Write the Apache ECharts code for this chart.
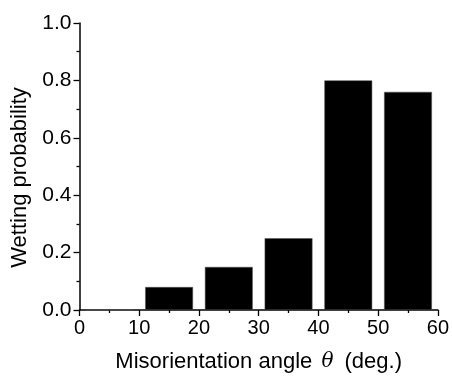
<!DOCTYPE html>
<html>
<head>
<meta charset="utf-8">
<script src="https://cdn.jsdelivr.net/npm/echarts@6/dist/echarts.min.js"></script>
<style>
  html, body { margin: 0; padding: 0; background: #fff; }
  #chart { width: 452px; height: 378px; }
</style>
</head>
<body>
<div id="chart"></div>
<script>
// Bin centres of the misorientation-angle histogram (degrees)
const binCenters = [5, 15, 25, 35, 45, 55];
// Wetting probability in each 10-degree bin
const wettingProb = [0, 0.08, 0.15, 0.25, 0.80, 0.76];
// Axis ranges and tick steps
const xRange = [0, 60];
const xStep = 10;
const yRange = [0, 1.0];
const yStep = 0.2;

const font = 'Liberation Sans, Arial, sans-serif';
const chart = echarts.init(document.getElementById('chart'), null, { renderer: 'canvas' });

const axisCommon = {
  axisLine: { show: true, onZero: false, lineStyle: { color: '#000', width: 1.5 } },
  axisTick: { show: true, inside: false, length: 6, lineStyle: { color: '#000', width: 1.3 } },
  minorTick: { show: true, splitNumber: 2, length: 3, lineStyle: { color: '#000', width: 1.3 } },
  splitLine: { show: false }
};

chart.setOption({
  animation: false,
  backgroundColor: '#fff',
  grid: { left: 79.5, right: 13.5, top: 23, bottom: 62, containLabel: false },
  xAxis: Object.assign({
    type: 'value',
    min: xRange[0], max: xRange[1], interval: xStep,
    name: 'Misorientation angle {i|θ} (deg.)',
    nameLocation: 'middle',
    nameGap: 41,
    nameTextStyle: {
      color: '#000', fontFamily: font, fontSize: 22,
      rich: { i: { fontStyle: 'italic', fontFamily: 'DejaVu Serif, serif', fontSize: 20, color: '#000', padding: [0, 5, 0, 3] } }
    },
    axisLabel: { color: '#000', fontFamily: font, fontSize: 20, margin: 8 }
  }, axisCommon),
  yAxis: Object.assign({
    type: 'value',
    min: yRange[0], max: yRange[1], interval: yStep,
    name: 'Wetting probability',
    nameLocation: 'middle',
    nameGap: 48,
    nameTextStyle: { color: '#000', fontFamily: font, fontSize: 22, padding: [0, 22, 0, 0] },
    axisLabel: {
      color: '#000', fontFamily: font, fontSize: 21, margin: 8,
      formatter: v => v.toFixed(1)
    }
  }, axisCommon),
  series: [{
    type: 'bar',
    data: binCenters.map((c, i) => [c, wettingProb[i]]),
    barWidth: '80%',
    itemStyle: { color: '#000', borderColor: '#555', borderWidth: 0.5 }
  }]
});
</script>
</body>
</html>
